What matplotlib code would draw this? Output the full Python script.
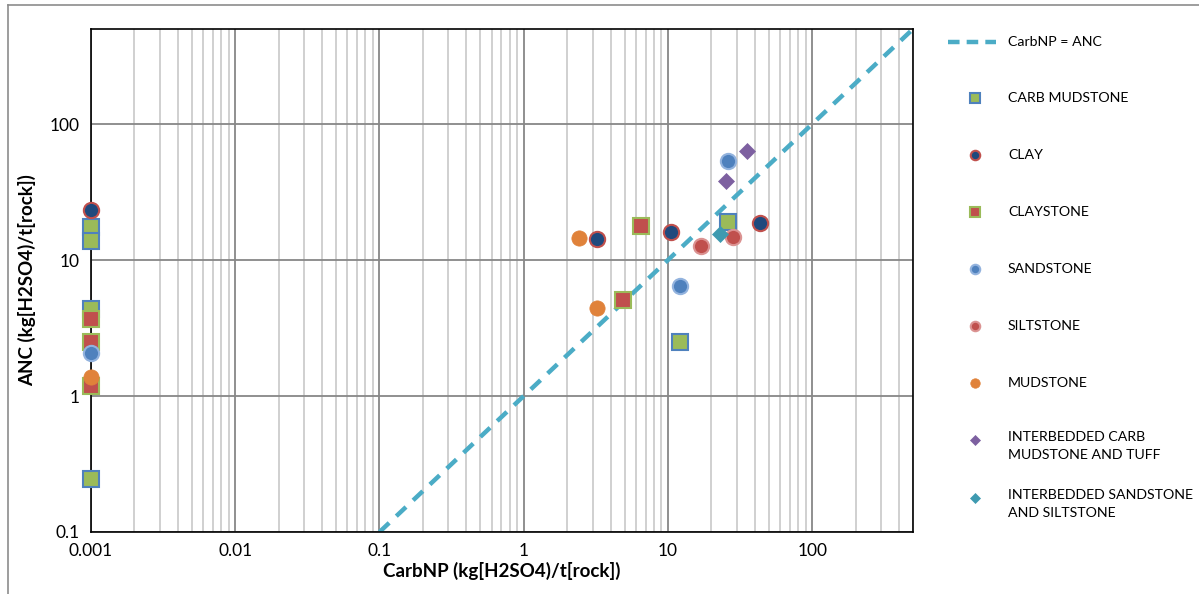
import matplotlib
matplotlib.use("Agg")
import matplotlib.pyplot as plt
from matplotlib.lines import Line2D
import numpy as np

plt.rcParams['font.family'] = ['Lato', 'DejaVu Sans']

# ---- data ----
line_x = [0.1, 500]
line_y = [0.1, 500]

carb_mud_x = [0.001, 0.001, 0.001, 0.001, 25.9, 12.2]
carb_mud_y = [17.5, 13.8, 4.4, 0.245, 19.0, 2.48]
clay_x = [0.001, 3.24, 10.5, 43.8]
clay_y = [23.3, 14.3, 16.0, 18.7]
claystone_x = [0.001, 0.001, 0.001, 6.49, 4.86]
claystone_y = [3.7, 2.5, 1.19, 17.7, 5.06]
sandstone_x = [0.001, 25.9, 12.2]
sandstone_y = [2.07, 53.2, 6.41]
siltstone_x = [17.0, 28.3]
siltstone_y = [12.6, 14.7]
mudstone_x = [0.001, 2.43, 3.24]
mudstone_y = [1.38, 14.4, 4.46]
ic_x = [25.1, 35.5]
ic_y = [38.1, 63.7]
is_x = [22.8]
is_y = [15.6]

x_ticks = [0.001, 0.01, 0.1, 1, 10, 100]
x_ticklabels = ["0.001", "0.01", "0.1", "1", "10", "100"]
y_ticks = [0.1, 1, 10, 100]
y_ticklabels = ["0.1", "1", "10", "100"]

W, H = 1199, 594
fig = plt.figure(figsize=(W / 100, H / 100), dpi=100)
ax = fig.add_axes([91 / W, 1 - 532 / H, (913 - 91) / W, (532 - 29) / H])
ax.set_xscale('log')
ax.set_yscale('log')
ax.set_xlim(0.001, 500)
ax.set_ylim(0.1, 500)

# grid
ax.set_xticks(x_ticks)
ax.set_xticklabels(x_ticklabels)
ax.set_yticks(y_ticks)
ax.set_yticklabels(y_ticklabels)
ax.xaxis.set_minor_locator(matplotlib.ticker.LogLocator(base=10, subs=np.arange(2, 10)))
ax.xaxis.set_minor_formatter(matplotlib.ticker.NullFormatter())
ax.yaxis.set_minor_locator(matplotlib.ticker.NullLocator())
ax.grid(True, which='major', axis='both', color='#878787', lw=1.3, zorder=0)
ax.grid(True, which='minor', axis='x', color='#C4C4C4', lw=1.1, zorder=0)
ax.set_axisbelow(True)
ax.tick_params(which='both', length=0, labelsize=12.5, pad=8)
for s in ax.spines.values():
    s.set_color('black')
    s.set_linewidth(1.2)

ax.set_xlabel("CarbNP (kg[H2SO4)/t[rock])", fontsize=13.5, fontweight='bold', labelpad=2)
ax.set_ylabel("ANC (kg[H2SO4)/t[rock])", fontsize=13.5, fontweight='bold', labelpad=10)

# series
line_color = '#4BACC6'
ax.plot(line_x, line_y, ls=(0, (3, 2.2)), color=line_color, lw=3.2, zorder=2, clip_on=True)

styles = [
    ("CARB MUDSTONE", carb_mud_x, carb_mud_y, 's', 11.5, '#9BBB59', '#4F81BD', 1.5),
    ("CLAY", clay_x, clay_y, 'o', 11, '#1F497D', '#C0504D', 1.5),
    ("CLAYSTONE", claystone_x, claystone_y, 's', 11.5, '#C0504D', '#9BBB59', 1.5),
    ("SANDSTONE", sandstone_x, sandstone_y, 'o', 11, '#4F81BD', '#93B3DE', 1.5),
    ("SILTSTONE", siltstone_x, siltstone_y, 'o', 11, '#C0504D', '#DB9392', 1.5),
    ("MUDSTONE", mudstone_x, mudstone_y, 'o', 11, '#E0823A', '#E0823A', 0.5),
    ("INTERBEDDED CARB\nMUDSTONE AND TUFF", ic_x, ic_y, 'D', 8, '#7D60A0', '#7D60A0', 0.5),
    ("INTERBEDDED SANDSTONE\nAND SILTSTONE", is_x, is_y, 'D', 8, '#3E9AB0', '#3E9AB0', 0.5),
]
for i, (lab, xs, ys, m, ms, fc, ec, ew) in enumerate(styles):
    ax.plot(xs, ys, ls='none', marker=m, ms=ms, mfc=fc, mec=ec, mew=ew,
            zorder=3 + i, clip_on=False)

# legend (manual, Excel-like)
def fx(px):
    return px / W

def fy(py):
    return 1 - py / H

leg_fs = 10.2
fig.add_artist(Line2D([fx(948), fx(996)], [fy(42), fy(42)], ls=(0, (2.6, 1.6)),
                      color=line_color, lw=3.2, transform=fig.transFigure))
fig.text(fx(1008), fy(42), "CarbNP = ANC", fontsize=leg_fs, va='center', ha='left')
leg_y = [98, 155, 212, 269, 326, 383, 440, 498]
scale_ms = 0.62
for (lab, xs, ys, m, ms, fc, ec, ew), py in zip(styles, leg_y):
    fig.add_artist(Line2D([fx(975)], [fy(py)], ls='none', marker=m, ms=ms * scale_ms,
                          mfc=fc, mec=ec, mew=ew, transform=fig.transFigure))
    if "\n" in lab:
        fig.text(fx(1008), fy(py - 9), lab, fontsize=leg_fs, va='top', ha='left',
                 linespacing=1.6)
    else:
        fig.text(fx(1008), fy(py), lab, fontsize=leg_fs, va='center', ha='left')

# outer chart frame
fig.add_artist(Line2D([fx(8), fx(8)], [fy(5), 0], color='#8C8C8C', lw=1.2,
                      transform=fig.transFigure))
fig.add_artist(Line2D([fx(8), 1], [fy(5), fy(5)], color='#8C8C8C', lw=1.2,
                      transform=fig.transFigure))

fig.savefig("out.png", dpi=100)
